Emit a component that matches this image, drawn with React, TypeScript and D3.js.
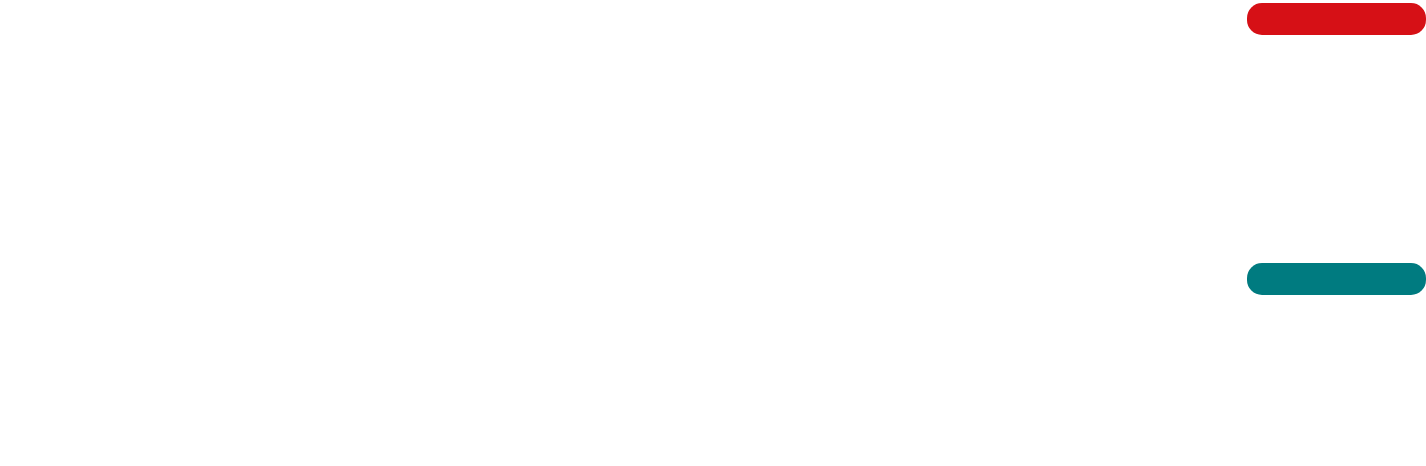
import React from 'react';
import * as d3 from 'd3';

// two pill-shaped bars on the right edge; everything else in the reference is blank
const categories = ['top', 'bottom'];
const values = [100, 100];
const colors = ['#d61016', '#007b80'];

const width = 1426;
const height = 466;

export default function App() {
  const x = d3.scaleLinear().domain([0, 100]).range([1247, 1426]);
  const y = d3.scalePoint<string>().domain(categories).range([19, 279]);
  const barH = 32;

  return (
    <svg
      width={width}
      height={height}
      style={{ position: 'absolute', left: 0, top: 0, background: '#ffffff' }}
    >
      {categories.map((c, i) => (
        <rect
          key={c}
          x={x(0)}
          y={(y(c) ?? 0) - barH / 2}
          width={x(values[i]) - x(0)}
          height={barH}
          rx={15}
          ry={15}
          fill={colors[i]}
        />
      ))}
    </svg>
  );
}
